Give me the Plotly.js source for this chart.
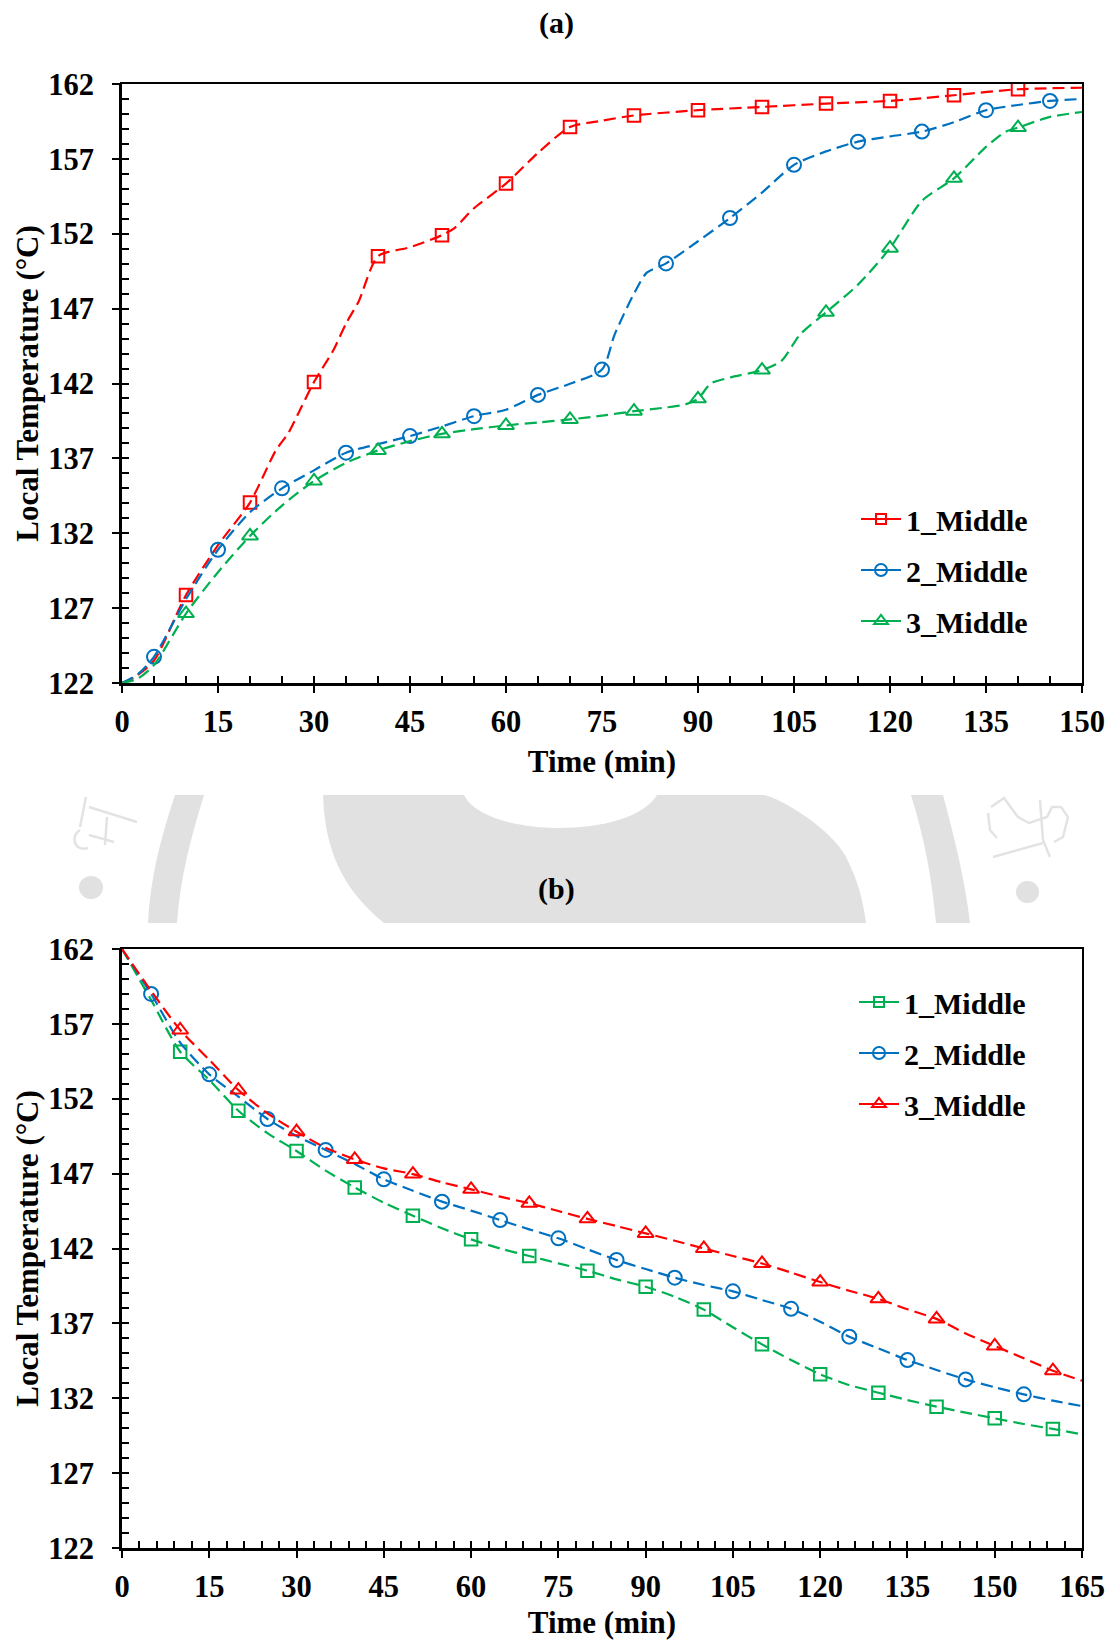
<!DOCTYPE html>
<html>
<head>
<meta charset="utf-8">
<script src="https://cdn.plot.ly/plotly-3.0.1.min.js"></script>
<style>
html,body{margin:0;padding:0;background:#fff;}
#chart{width:1114px;height:1640px;}
</style>
</head>
<body>
<div id="chart"></div>
<script>
// ---------------- DATA ----------------
// (a) heating
const a1Time = [0, 2, 5, 10, 15, 20, 24, 26, 28, 30, 33, 35, 37, 40, 45, 50, 52, 55, 60, 65, 70, 75, 80, 90, 100, 110, 120, 125, 130, 140, 150];
const a1Temp = [122, 122.4, 123.5, 127.87, 131.2, 134.05, 137.5, 138.7, 140.4, 142.1, 144.2, 146.0, 147.5, 150.5, 151.1, 151.9, 152.4, 153.7, 155.35, 157.4, 159.13, 159.55, 159.9, 160.25, 160.47, 160.69, 160.87, 161.05, 161.25, 161.65, 161.75];
const a2Time = [0, 2.5, 5, 10, 15, 20, 25, 30, 35, 40, 45, 50, 55, 60, 65, 70, 75, 77, 80, 82, 85, 90, 95, 100, 105, 110, 115, 120, 125, 130, 135, 140, 145, 150];
const a2Temp = [122, 122.6, 123.75, 127.6, 130.9, 133.4, 135.0, 136.2, 137.38, 137.95, 138.49, 139.13, 139.82, 140.25, 141.24, 141.98, 142.93, 145.3, 148.0, 149.4, 150.02, 151.5, 153.05, 154.75, 156.6, 157.5, 158.15, 158.5, 158.82, 159.45, 160.25, 160.6, 160.87, 161.0];
const a3Time = [0, 2.5, 5, 10, 15, 20, 25, 30, 35, 40, 45, 50, 55, 60, 65, 70, 75, 80, 85, 88, 90, 92, 95, 100, 103, 106, 110, 115, 120, 125, 130, 135, 138, 140, 145, 150];
const a3Temp = [122, 122.3, 123.2, 126.64, 129.4, 131.82, 133.85, 135.49, 136.7, 137.53, 138.15, 138.64, 138.95, 139.2, 139.4, 139.6, 139.85, 140.15, 140.4, 140.6, 140.98, 142.0, 142.4, 142.9, 143.5, 145.3, 146.75, 148.6, 151.04, 154.2, 155.7, 157.8, 158.8, 159.09, 159.8, 160.13];
const a1Marks = [10, 20, 30, 40, 50, 60, 70, 80, 90, 100, 110, 120, 130, 140];
const a2Marks = [5, 15, 25, 35, 45, 55, 65, 75, 85, 95, 105, 115, 125, 135, 145];
const a3Marks = [10, 20, 30, 40, 50, 60, 70, 80, 90, 100, 110, 120, 130, 140];

// (b) cooling
const bTime  = [0, 5, 10, 15, 20, 25, 30, 35, 40, 45, 50, 55, 60, 65, 70, 75, 80, 85, 90, 95, 100, 105, 110, 115, 120, 125, 130, 135, 140, 145, 150, 155, 160, 165];
const b1Temp = [162, 158.6, 155.14, 153.25, 151.2, 149.7, 148.51, 147.2, 146.08, 145.06, 144.19, 143.35, 142.61, 142.0, 141.5, 141.01, 140.52, 139.94, 139.45, 138.78, 137.92, 136.74, 135.6, 134.55, 133.6, 132.88, 132.37, 131.88, 131.44, 131.04, 130.66, 130.28, 129.95, 129.59];
const b2Temp = [162, 159.0, 155.75, 153.63, 152.14, 150.65, 149.51, 148.58, 147.64, 146.62, 145.86, 145.13, 144.53, 143.9, 143.28, 142.68, 141.95, 141.23, 140.63, 140.05, 139.56, 139.14, 138.56, 137.97, 137.11, 136.11, 135.33, 134.55, 133.89, 133.26, 132.73, 132.26, 131.84, 131.48];
const b3Temp = [162, 159.2, 156.59, 154.6, 152.58, 151.03, 149.8, 148.73, 147.95, 147.35, 146.97, 146.42, 145.95, 145.46, 145.02, 144.5, 143.98, 143.5, 143.01, 142.52, 142.0, 141.5, 141.0, 140.39, 139.76, 139.18, 138.64, 137.94, 137.3, 136.33, 135.49, 134.67, 133.84, 133.17];
const b1Marks = [10, 20, 30, 40, 50, 60, 70, 80, 90, 100, 110, 120, 130, 140, 150, 160];
const b2Marks = [5, 15, 25, 35, 45, 55, 65, 75, 85, 95, 105, 115, 125, 135, 145, 155];
const b3Marks = [10, 20, 30, 40, 50, 60, 70, 80, 90, 100, 110, 120, 130, 140, 150, 160];

const seriesNames = ['1_Middle', '2_Middle', '3_Middle'];
const xTitle = 'Time (min)';
const yTitle = 'Local Temperature (°C)';
const panelTitles = ['(a)', '(b)'];

// ---------------- STYLE ----------------
const FONT = '"Liberation Serif", "Times New Roman", Times, serif';
const RED = '#ff0000', BLUE = '#0070c0', GREEN = '#00b050';
const W = 1114, H = 1640, ML = 122, MR = 32, MT = 84, MB = 92;
const PW = W - ML - MR, PH = H - MT - MB;
const X = px => (px - ML) / PW;
const Y = py => (H - MB - py) / PH;

function pick(times, temps, marks) {
  const xs = [], ys = [];
  times.forEach((t, i) => { if (marks.indexOf(t) >= 0) { xs.push(t); ys.push(temps[i]); } });
  return {xs, ys};
}

const DASH = '12px,6px';
function seriesTraces(times, temps, marks, color, symbol, msize, lsize, xa, ya, name, legendId, group) {
  const m = pick(times, temps, marks);
  return [
    {x: times, y: temps, xaxis: xa, yaxis: ya, mode: 'lines', type: 'scatter',
     line: {color: color, width: 2.2, dash: DASH, shape: 'spline', smoothing: 0.7},
     showlegend: false, hoverinfo: 'skip'},
    {x: m.xs, y: m.ys, xaxis: xa, yaxis: ya, mode: 'markers', type: 'scatter',
     marker: {symbol: symbol, size: msize, color: color, line: {color: color, width: 2}},
     showlegend: false, hoverinfo: 'skip'},
    {x: [null], y: [null], xaxis: xa, yaxis: ya, mode: 'lines+markers', type: 'scatter',
     name: name, legend: legendId, legendgroup: group,
     line: {color: color, width: 2},
     marker: {symbol: symbol, size: lsize, color: color, line: {color: color, width: 2}}}
  ];
}

const traces = [].concat(
  seriesTraces(a1Time, a1Temp, a1Marks, RED, 'square-open', 12.5, 10, 'x', 'y', seriesNames[0], 'legend', 'a1'),
  seriesTraces(a2Time, a2Temp, a2Marks, BLUE, 'circle-open', 14, 12, 'x', 'y', seriesNames[1], 'legend', 'a2'),
  seriesTraces(a3Time, a3Temp, a3Marks, GREEN, 'triangle-up-open', 14, 12, 'x', 'y', seriesNames[2], 'legend', 'a3'),
  seriesTraces(bTime, b1Temp, b1Marks, GREEN, 'square-open', 12.5, 10, 'x2', 'y2', seriesNames[0], 'legend2', 'b1'),
  seriesTraces(bTime, b2Temp, b2Marks, BLUE, 'circle-open', 14, 12, 'x2', 'y2', seriesNames[1], 'legend2', 'b2'),
  seriesTraces(bTime, b3Temp, b3Marks, RED, 'triangle-up-open', 14, 12, 'x2', 'y2', seriesNames[2], 'legend2', 'b3')
);
// helper traces so that the overlay (inside-tick) axes get drawn
traces.push({x: [null], y: [null], xaxis: 'x3', yaxis: 'y3', showlegend: false, hoverinfo: 'skip'});
traces.push({x: [null], y: [null], xaxis: 'x4', yaxis: 'y4', showlegend: false, hoverinfo: 'skip'});

const tickFont = {family: FONT, size: 30.5, color: '#000', weight: 'bold'};
const titleFont = {family: FONT, size: 31, color: '#000', weight: 'bold'};
const topDom = [Y(683), 1];
const botDom = [0, Y(949)];

function mainAx(o) {
  return Object.assign({
    showline: true, linecolor: '#000', linewidth: 2, mirror: true,
    ticks: 'outside', ticklen: 8, tickwidth: 2, tickcolor: '#000',
    showgrid: false, zeroline: false, tickfont: tickFont, fixedrange: true
  }, o);
}
function innerAx(o) {
  return Object.assign({
    showline: true, linecolor: '#000', linewidth: 3,
    ticks: 'inside', ticklen: 7, tickwidth: 2, tickcolor: '#000',
    showticklabels: false, showgrid: false, zeroline: false, fixedrange: true
  }, o);
}

function wm(cmds) {
  // cmds: array of commands and pixel coordinates -> paper coords
  let out = '', isX = true;
  cmds.forEach(c => {
    if (typeof c === 'string') { out += c + ' '; isX = true; }
    else { out += (isX ? X(c) : Y(c)).toFixed(5) + (isX ? ',' : ' '); isX = !isX; }
  });
  return out.trim();
}
const WM = '#e1e1e1';
const wmShape = p => ({type: 'path', xref: 'paper', yref: 'paper', path: p, fillcolor: WM, line: {width: 0}, layer: 'below'});
const wmStroke = p => ({type: 'path', xref: 'paper', yref: 'paper', path: p, line: {color: '#e3e3e3', width: 2.5}, layer: 'below'});
const shapes = [
  // central seal ring segment
  wmShape(wm(['M', 323, 795, 'L', 464, 795, 'C', 485, 838, 630, 840, 657, 795, 'L', 765, 795,
              'C', 790, 803, 830, 830, 845, 855, 'C', 858, 880, 863, 900, 866, 923,
              'L', 384, 923, 'C', 350, 895, 325, 860, 323, 795, 'Z'])),
  // left ring strip
  wmShape(wm(['M', 175, 795, 'L', 204, 795, 'C', 190, 840, 180, 880, 177, 923, 'L', 148, 923, 'C', 150, 880, 160, 840, 175, 795, 'Z'])),
  // right ring strip
  wmShape(wm(['M', 911, 795, 'L', 943, 795, 'C', 955, 840, 965, 880, 970, 923, 'L', 936, 923, 'C', 932, 880, 925, 840, 911, 795, 'Z'])),
  {type: 'circle', xref: 'paper', yref: 'paper', x0: X(79), x1: X(103), y0: Y(876), y1: Y(899), fillcolor: WM, line: {width: 0}, layer: 'below'},
  {type: 'circle', xref: 'paper', yref: 'paper', x0: X(1016), x1: X(1039), y0: Y(881), y1: Y(903), fillcolor: WM, line: {width: 0}, layer: 'below'},
  // faint letter strokes of the watermark
  wmStroke(wm(['M', 89, 807, 'L', 137, 822])),
  wmStroke(wm(['M', 86, 797, 'L', 80, 827])),
  wmStroke(wm(['M', 107, 817, 'L', 105, 845])),
  wmStroke(wm(['M', 89, 835, 'L', 114, 842])),
  wmStroke(wm(['M', 80, 830, 'C', 70, 836, 74, 852, 88, 848])),
  wmStroke(wm(['M', 991, 807, 'L', 1004, 798, 'L', 1018, 817, 'L', 1029, 823, 'L', 1047, 817, 'L', 1052, 807, 'L', 1061, 807, 'L', 1068, 817, 'L', 1063, 837, 'L', 1054, 842])),
  wmStroke(wm(['M', 988, 813, 'L', 990, 830, 'L', 997, 838])),
  wmStroke(wm(['M', 993, 857, 'L', 1043, 843])),
  wmStroke(wm(['M', 1040, 800, 'L', 1043, 840, 'L', 1050, 857]))
];

const legendBase = {
  xanchor: 'left', yanchor: 'top', bgcolor: 'rgba(0,0,0,0)', borderwidth: 0,
  font: {family: FONT, size: 30, color: '#000', weight: 'bold'},
  traceorder: 'grouped', tracegroupgap: 9, itemwidth: 40,
  itemclick: false, itemdoubleclick: false
};

const layout = {
  width: W, height: H,
  margin: {l: ML, r: MR, t: MT, b: MB, pad: 0},
  paper_bgcolor: '#fff', plot_bgcolor: 'rgba(0,0,0,0)',
  showlegend: true,
  xaxis: mainAx({domain: [0, 1], anchor: 'y', range: [0, 150], tick0: 0, dtick: 15, ticklabelstandoff: 2,
    title: {text: xTitle, font: titleFont, standoff: 13}}),
  yaxis: mainAx({domain: topDom, anchor: 'x', range: [122, 162], tick0: 122, dtick: 5, ticklabelstandoff: 12,
    title: {text: yTitle, font: titleFont, standoff: 0}}),
  xaxis2: mainAx({domain: [0, 1], anchor: 'y2', range: [0, 165], tick0: 0, dtick: 15, ticklabelstandoff: 2,
    title: {text: xTitle, font: titleFont, standoff: 13}}),
  yaxis2: mainAx({domain: botDom, anchor: 'x2', range: [122, 162], tick0: 122, dtick: 5, ticklabelstandoff: 12,
    title: {text: yTitle, font: titleFont, standoff: 0}}),
  xaxis3: innerAx({overlaying: 'x', anchor: 'y', range: [0, 150], tick0: 0, dtick: 5}),
  yaxis3: innerAx({overlaying: 'y', anchor: 'x', range: [122, 162], tick0: 122, dtick: 1}),
  xaxis4: innerAx({overlaying: 'x2', anchor: 'y2', range: [0, 165], tick0: 0, dtick: 3}),
  yaxis4: innerAx({overlaying: 'y2', anchor: 'x2', range: [122, 162], tick0: 122, dtick: 1}),
  legend: Object.assign({}, legendBase, {x: X(856), y: Y(493)}),
  legend2: Object.assign({}, legendBase, {x: X(854), y: Y(976)}),
  shapes: shapes,
  annotations: [
    {text: panelTitles[0], xref: 'paper', yref: 'paper', x: X(556), y: Y(23), xanchor: 'center', yanchor: 'middle',
     showarrow: false, font: {family: FONT, size: 30, color: '#000', weight: 'bold'}},
    {text: panelTitles[1], xref: 'paper', yref: 'paper', x: X(556), y: Y(889), xanchor: 'center', yanchor: 'middle',
     showarrow: false, font: {family: FONT, size: 30, color: '#000', weight: 'bold'}}
  ]
};

Plotly.newPlot('chart', traces, layout, {staticPlot: true, displayModeBar: false});
</script>
</body>
</html>
